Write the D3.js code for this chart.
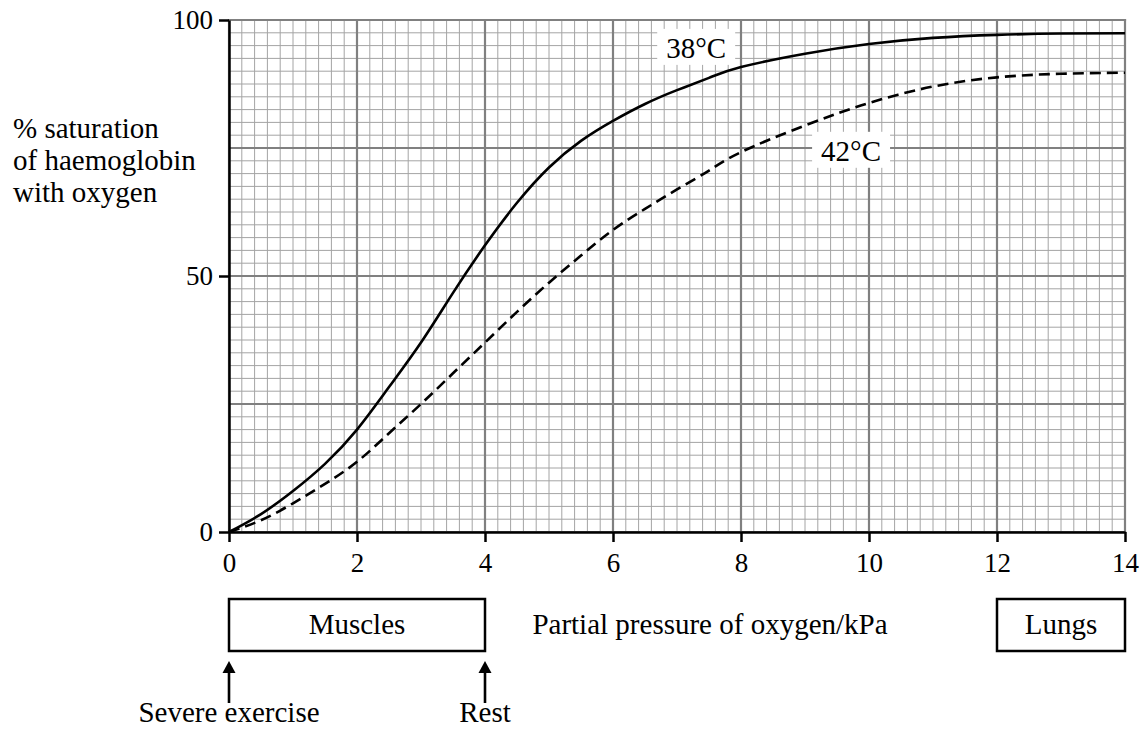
<!DOCTYPE html>
<html>
<head>
<meta charset="utf-8">
<script src="https://cdn.jsdelivr.net/npm/d3@7"></script>
</head>
<body style="margin:0">
<script>
// partial pressure of oxygen / kPa
var pressure = [0, 0.5, 1, 1.5, 2, 2.5, 3, 3.5, 4, 4.5, 5, 5.5, 6, 6.5, 7, 7.5, 8, 9, 10, 11, 12, 13, 14];
// % saturation at 38 C (solid) and 42 C (dashed)
var sat38 = [0, 3.5, 8, 13.3, 20, 28.3, 37, 46.7, 56, 64.3, 71.2, 76.4, 80.3, 83.6, 86.3, 88.7, 90.8, 93.4, 95.3, 96.5, 97.1, 97.35, 97.4];
var sat42 = [0, 2.3, 5.6, 9.4, 13.7, 19.3, 25, 31, 37, 43, 48.7, 54, 59, 63.1, 66.9, 70.6, 74.2, 79.4, 83.8, 87, 88.8, 89.5, 89.7];

var xTicks = [0, 2, 4, 6, 8, 10, 12, 14];
var yTicks = [0, 50, 100];

var curveNames = ['38°C', '42°C'];
var curveLabelX = [7.3, 9.72];
var curveLabelY = [92.6, 72.5];

var yTitle = ['% saturation', 'of haemoglobin', 'with oxygen'];
var xTitle = 'Partial pressure of oxygen/kPa';

// boxes below the axis, in kPa
var boxNames = ['Muscles', 'Lungs'];
var boxFrom = [0, 12];
var boxTo = [4, 14];

var arrowNames = ['Severe exercise', 'Rest'];
var arrowAt = [0, 4];

function serif(sel, size) {
	sel.style('font-family', '"Liberation Serif"')
		.style('font-size', size + 'px')
		.attr('fill', '#000');
}

function OxygenCurveChart() {
	this.chart = {};
	this.props = {};
	this.props.width = 1143;
	this.props.height = 729;
	this.props.plot = {
		left: 229,
		right: 1125,
		top: 20,
		bottom: 532
	};
}

OxygenCurveChart.prototype.createChart = function() {
	this.chart.svg = d3.select('body')
		.append('svg')
		.attr('width', this.props.width)
		.attr('height', this.props.height);

	this.chart.x = d3.scaleLinear()
		.domain([0, 14])
		.range([this.props.plot.left, this.props.plot.right]);
	this.chart.y = d3.scaleLinear()
		.domain([0, 100])
		.range([this.props.plot.bottom, this.props.plot.top]);
	return this.chart;
}

OxygenCurveChart.prototype.addGrid = function() {
	var x = this.chart.x, y = this.chart.y;
	var minorX = d3.range(0, 71).map(function(i) { return i * 0.2; });
	var minorY = d3.range(0, 41).map(function(i) { return i * 2.5; });
	var majorX = d3.range(0, 8).map(function(i) { return i * 2; });
	var majorY = d3.range(0, 5).map(function(i) { return i * 25; });

	var minor = this.chart.svg.append('g')
		.attr('stroke', '#a4a4a4')
		.attr('stroke-width', 1);
	minor.selectAll('.vx').data(minorX).enter().append('line')
		.attr('x1', function(d) { return x(d); })
		.attr('x2', function(d) { return x(d); })
		.attr('y1', y(0))
		.attr('y2', y(100));
	minor.selectAll('.hy').data(minorY).enter().append('line')
		.attr('x1', x(0))
		.attr('x2', x(14))
		.attr('y1', function(d) { return y(d); })
		.attr('y2', function(d) { return y(d); });

	var major = this.chart.svg.append('g')
		.attr('stroke', '#808080')
		.attr('stroke-width', 2.2);
	major.selectAll('.vx').data(majorX).enter().append('line')
		.attr('x1', function(d) { return x(d); })
		.attr('x2', function(d) { return x(d); })
		.attr('y1', y(0))
		.attr('y2', y(100) - 1.1);
	major.selectAll('.hy').data(majorY).enter().append('line')
		.attr('x1', x(0))
		.attr('x2', x(14) + 1.1)
		.attr('y1', function(d) { return y(d); })
		.attr('y2', function(d) { return y(d); });
}

OxygenCurveChart.prototype.addAxes = function() {
	var yAxis = d3.axisLeft(this.chart.y)
		.tickValues(yTicks)
		.tickSize(10)
		.tickPadding(6)
		.tickSizeOuter(0);
	var yg = this.chart.svg.append('g')
		.attr('transform', 'translate(' + this.props.plot.left + ',0)')
		.call(yAxis);

	var xAxis = d3.axisBottom(this.chart.x)
		.tickValues(xTicks)
		.tickSize(10)
		.tickPadding(11)
		.tickSizeOuter(0);
	var xg = this.chart.svg.append('g')
		.attr('transform', 'translate(0,' + this.props.plot.bottom + ')')
		.call(xAxis);

	[xg, yg].forEach(function(g) {
		g.attr('font-family', null).attr('font-size', null);
		g.selectAll('path, line')
			.attr('stroke', '#000')
			.attr('stroke-width', 2.5);
		g.selectAll('text').call(serif, 27);
	});
}

OxygenCurveChart.prototype.addCurves = function() {
	var x = this.chart.x, y = this.chart.y;
	var line = d3.line()
		.x(function(d) { return x(d[0]); })
		.y(function(d) { return y(d[1]); })
		.curve(d3.curveNatural);

	this.chart.svg.append('path')
		.datum(d3.zip(pressure, sat38))
		.attr('d', line)
		.attr('fill', 'none')
		.attr('stroke', '#000')
		.attr('stroke-width', 2.6);

	this.chart.svg.append('path')
		.datum(d3.zip(pressure, sat42))
		.attr('d', line)
		.attr('fill', 'none')
		.attr('stroke', '#000')
		.attr('stroke-width', 2.6)
		.attr('stroke-dasharray', '11,6');

	var svg = this.chart.svg;
	curveNames.forEach(function(name, i) {
		var g = svg.append('g');
		var bg = g.append('rect').attr('fill', '#fff');
		var t = g.append('text')
			.attr('x', x(curveLabelX[i]))
			.attr('y', y(curveLabelY[i]))
			.attr('text-anchor', 'middle')
			.text(name)
			.call(serif, 29);
		var b = t.node().getBBox();
		bg.attr('x', b.x - 9)
			.attr('y', b.y - 3)
			.attr('width', b.width + 18)
			.attr('height', b.height + 4);
	});
}

OxygenCurveChart.prototype.addTitles = function() {
	var svg = this.chart.svg;
	svg.selectAll('.ytitle')
		.data(yTitle)
		.enter()
		.append('text')
			.attr('class', 'ytitle')
			.attr('x', 13)
			.attr('y', function(d, i) { return 138 + i * 32; })
			.text(function(d) { return d; })
			.call(serif, 29);

	svg.append('text')
		.attr('x', 710)
		.attr('y', 634)
		.attr('text-anchor', 'middle')
		.text(xTitle)
		.call(serif, 29);
}

OxygenCurveChart.prototype.addBoxes = function() {
	var x = this.chart.x, svg = this.chart.svg;
	boxNames.forEach(function(name, i) {
		svg.append('rect')
			.attr('x', x(boxFrom[i]))
			.attr('y', 599)
			.attr('width', x(boxTo[i]) - x(boxFrom[i]))
			.attr('height', 52)
			.attr('fill', 'none')
			.attr('stroke', '#000')
			.attr('stroke-width', 2.5);
		svg.append('text')
			.attr('x', (x(boxFrom[i]) + x(boxTo[i])) / 2)
			.attr('y', 634)
			.attr('text-anchor', 'middle')
			.text(name)
			.call(serif, 29);
	});

	arrowNames.forEach(function(name, i) {
		var ax = x(arrowAt[i]);
		svg.append('line')
			.attr('x1', ax).attr('x2', ax)
			.attr('y1', 703).attr('y2', 670)
			.attr('stroke', '#000')
			.attr('stroke-width', 2.6);
		svg.append('path')
			.attr('d', 'M' + ax + ',661L' + (ax - 6.5) + ',673L' + (ax + 6.5) + ',673Z')
			.attr('fill', '#000');
		svg.append('text')
			.attr('x', ax)
			.attr('y', 722)
			.attr('text-anchor', 'middle')
			.text(name)
			.call(serif, 29);
	});
}

var chart = new OxygenCurveChart();
chart.createChart();
chart.addGrid();
chart.addAxes();
chart.addCurves();
chart.addTitles();
chart.addBoxes();
</script>
</body>
</html>
